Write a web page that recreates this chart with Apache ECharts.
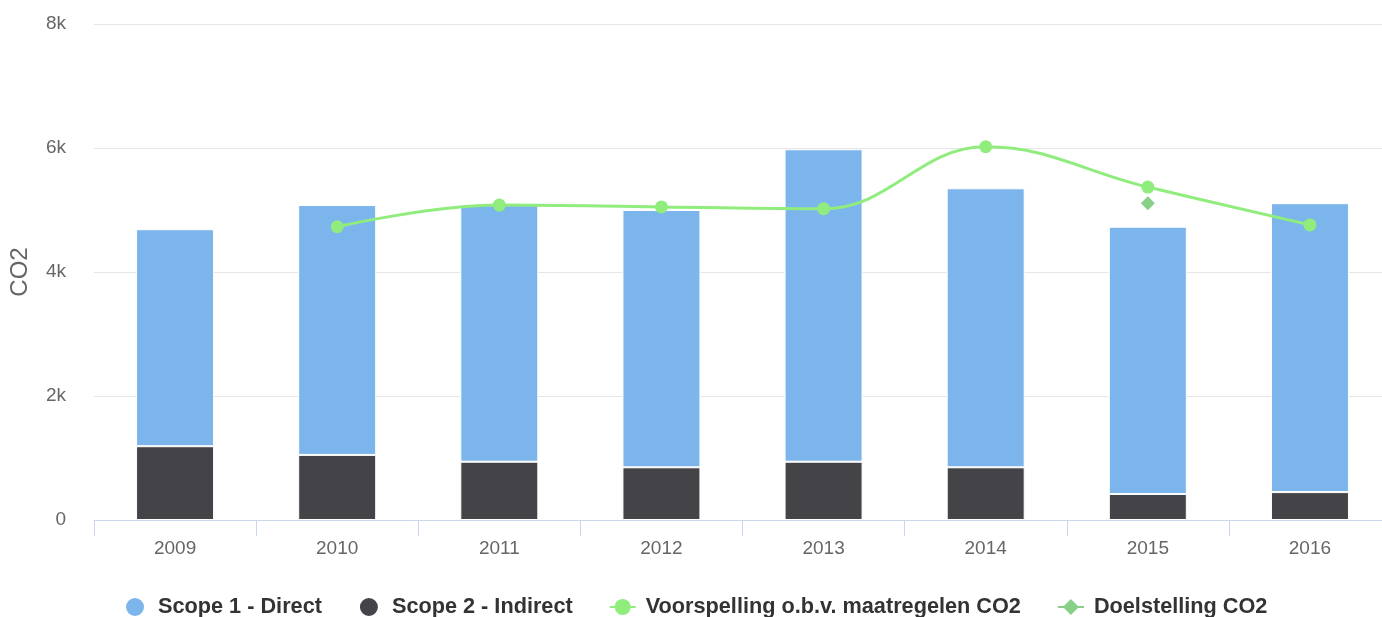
<!DOCTYPE html>
<html>
<head>
<meta charset="utf-8">
<script src="https://cdn.jsdelivr.net/npm/echarts@6/dist/echarts.min.js"></script>
<style>
    html, body { margin: 0; padding: 0; background: #fff; }
    #chart { width: 1382px; height: 617px; }
</style>
</head>
<body>
<div id="chart"></div>
<script>
(function () {
    // data
    const years = ['2009', '2010', '2011', '2012', '2013', '2014', '2015', '2016'];
    const scope1 = [3500, 4030, 4140, 4150, 5040, 4500, 4310, 4660];
    const scope2 = [1190, 1050, 940, 850, 940, 850, 420, 450];
    const voorspelling = [null, 4730, 5080, 5050, 5020, 6020, 5370, 4760];
    const doelstelling = [null, null, null, null, null, null, 5110, null];
    const yTicks = [0, 2000, 4000, 6000, 8000];

    const font = 'Liberation Sans, Arial, Helvetica, sans-serif';

    const myChart = echarts.init(document.getElementById('chart'));
    myChart.setOption({
        animation: false,
        textStyle: { fontFamily: font },
        grid: {
            left: 94,
            width: 1297,
            top: 24,
            bottom: 97,
            outerBoundsMode: 'none'
        },
        legend: {
            top: 591,
            left: 119,
            itemGap: 36,
            itemWidth: 26,
            itemHeight: 20,
            textStyle: {
                fontFamily: font,
                fontSize: 21.7,
                fontWeight: 'bold',
                color: '#333333',
                padding: [0, 0, 0, 5]
            },
            data: [
                { name: 'Scope 1 - Direct', icon: 'circle' },
                { name: 'Scope 2 - Indirect', icon: 'circle' },
                { name: 'Voorspelling o.b.v. maatregelen CO2' },
                { name: 'Doelstelling CO2' }
            ]
        },
        xAxis: {
            type: 'category',
            data: years,
            axisLine: { lineStyle: { color: '#ccd6eb', width: 1 } },
            axisTick: { show: true, length: 16, lineStyle: { color: '#ccd6eb' } },
            axisLabel: { color: '#666666', fontSize: 19, margin: 19 }
        },
        yAxis: {
            type: 'value',
            min: yTicks[0],
            max: yTicks[yTicks.length - 1],
            interval: 2000,
            name: 'CO2',
            nameLocation: 'middle',
            nameGap: 62,
            nameTextStyle: { color: '#666666', fontSize: 24 },
            axisLine: { show: false },
            axisTick: { show: false },
            axisLabel: {
                color: '#666666',
                fontSize: 19,
                margin: 28,
                formatter: (v) => v === 0 ? '0' : (v / 1000) + 'k'
            },
            splitLine: { lineStyle: { color: '#e6e6e6', width: 1 } }
        },
        series: [{
            name: 'Scope 2 - Indirect',
            type: 'bar',
            stack: 'co2',
            barWidth: 78,
            data: scope2,
            itemStyle: { color: '#434348', borderColor: '#ffffff', borderWidth: 1 }
        }, {
            name: 'Scope 1 - Direct',
            type: 'bar',
            stack: 'co2',
            barWidth: 78,
            data: scope1,
            itemStyle: { color: '#7cb5ec', borderColor: '#ffffff', borderWidth: 1 }
        }, {
            name: 'Voorspelling o.b.v. maatregelen CO2',
            type: 'line',
            smooth: 0.4,
            data: voorspelling,
            symbol: 'circle',
            symbolSize: 13,
            lineStyle: { color: '#90ed7d', width: 3 },
            itemStyle: { color: '#90ed7d' }
        }, {
            name: 'Doelstelling CO2',
            type: 'line',
            data: doelstelling,
            symbol: 'diamond',
            symbolSize: 14,
            lineStyle: { color: '#88cf88', width: 3 },
            itemStyle: { color: '#88cf88' }
        }]
    });
})()
</script>
</body>
</html>
